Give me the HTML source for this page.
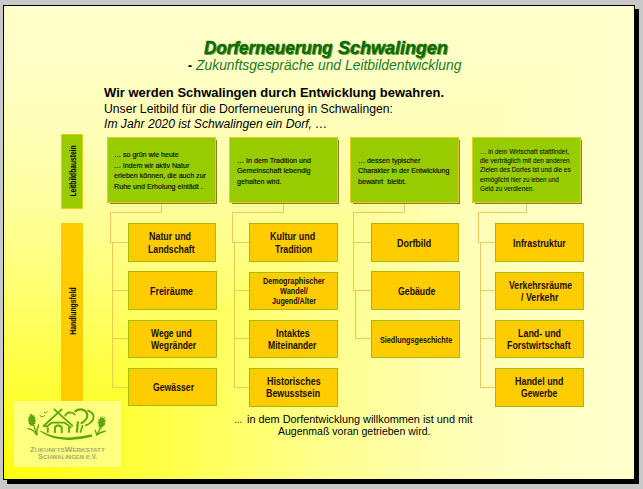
<!DOCTYPE html><html><head><meta charset="utf-8"><title>Dorferneuerung Schwalingen</title>
<style>
html,body{margin:0;padding:0}
body{width:643px;height:489px;overflow:hidden;position:relative;background:#c9c9c9;font-family:"Liberation Sans",sans-serif}
.a{position:absolute}
.t{position:absolute;white-space:pre;line-height:1;transform-origin:0 0}
.gb{position:absolute;background:#99cc00;border:1px solid #e2cf1e;box-sizing:border-box}
.gs{position:absolute;background:#8d7d20}
.ob{position:absolute;background:#ffcc00;border:1px solid #a9bb00;box-sizing:border-box}
</style></head><body>
<div class="a" style="left:3px;top:5px;width:630px;height:473px;border:1px solid #000;box-shadow:4px 4px 0 #000;background:#ffffcc"></div>
<svg class="a" style="left:4px;top:6px" width="630" height="473" viewBox="0 0 630 473">
<defs>
<linearGradient id="gv" x1="0" y1="1" x2="0" y2="0"><stop offset="0" stop-color="#ffff0c"/><stop offset="0.125" stop-color="#ffff26"/><stop offset="0.25" stop-color="#ffff46"/><stop offset="0.375" stop-color="#ffff69"/><stop offset="0.5" stop-color="#ffff8c"/><stop offset="0.625" stop-color="#ffffa6"/><stop offset="0.75" stop-color="#ffffb9"/><stop offset="0.875" stop-color="#ffffc5"/><stop offset="1" stop-color="#ffffcc"/></linearGradient>
<linearGradient id="gh" x1="0" y1="0" x2="1" y2="0"><stop offset="0" stop-color="#ffff0c"/><stop offset="0.125" stop-color="#ffff26"/><stop offset="0.25" stop-color="#ffff46"/><stop offset="0.375" stop-color="#ffff69"/><stop offset="0.5" stop-color="#ffff8c"/><stop offset="0.625" stop-color="#ffffa6"/><stop offset="0.75" stop-color="#ffffb9"/><stop offset="0.875" stop-color="#ffffc5"/><stop offset="1" stop-color="#ffffcc"/></linearGradient>
</defs>
<rect width="630" height="473" fill="url(#gv)"/>
<polygon points="0,473 630,473 630,0" fill="url(#gh)"/>
</svg>
<div class="gb" style="left:61px;top:134px;width:22px;height:75px;border-color:#f0cc10"></div>
<div class="a" style="left:61px;top:223px;width:22px;height:178px;background:#ffcc00"></div>
<div class="a" style="left:14px;top:401px;width:107px;height:66px;background:#ffff80"></div>
<svg class="a" style="left:14px;top:401px" width="107" height="66" viewBox="14 401 107 66">
<g fill="none" stroke="#5fa50f" stroke-linecap="round" stroke-linejoin="round">
<path d="M61.7 409.4 L43.6 426 L47.3 426.3 L51.6 422.7 L64.8 422.7 L70.8 427.4" stroke-width="1.8"/>
<path d="M54.3 409.3 L72.4 425.6" stroke-width="1.8"/>
<path d="M54.9 432.2 L54.9 428 Q54.9 425.4 58.3 425.4 Q61.7 425.4 61.7 428 L61.7 432.2" stroke-width="2"/>
<path d="M47.8 428.2 L47.8 432" stroke-width="1.9"/>
<path d="M69 427.8 L69 432" stroke-width="1.9"/>
<path d="M65.1 415.7 Q66.5 412.4 70 412.3 Q73.2 412.3 74.8 414.6" stroke-width="1.7"/>
<path d="M75.2 411.4 Q77.5 409.3 80.8 409.4 Q87 410 87.3 415.8 Q87 420.5 81.5 423" stroke-width="2.1"/>
<path d="M88 410.6 Q93.6 412.5 93.6 417 Q93.2 422.5 85.8 425.4" stroke-width="1.8"/>
<path d="M77.9 422.4 L76.9 431.6" stroke-width="2.2"/>
<path d="M82.6 425.8 L80.4 432" stroke-width="1.7"/>
<path d="M39.9 415.6 Q41 416.9 42.6 416.8 Q44 416.5 45 415.3" stroke-width="1"/>
<path d="M44.3 412.5 Q45.2 413.2 46.1 412.9 Q47.2 412.4 47.9 411.4" stroke-width="0.9"/>
<path d="M33.6 425 Q34.8 429 36.2 433.6" stroke-width="1.3"/>
<path d="M28 428.6 Q33 429 36.4 434.6" stroke-width="1.4"/>
<path d="M38.6 425 Q36.4 429.5 36.8 435" stroke-width="1.5"/>
<path d="M100.6 427 Q99 431.5 96.8 434.8" stroke-width="1.4"/>
<path d="M95.2 430.2 Q96 432.6 96.8 434.8" stroke-width="1.3"/>
<path d="M105.2 431.2 Q100.5 432 96.8 434.8" stroke-width="1.5"/>
<path d="M98.6 425.5 L101 428.4" stroke-width="1.1"/>
</g>
<g fill="#5fa50f" stroke="none">
<path d="M40.3 430.4 Q54 438 70 437.4 Q82 436.8 91.6 434.2 L92.4 436.8 Q82 439.4 70 439.9 Q53 440.4 40.3 431.8 Z"/>
<path d="M31.6 413.8 L32.8 415.4 L34.2 415.2 L34.4 417 L35.6 417.6 L35 419.2 L36 420.6 L35 422 L35.4 423.8 L34 424.4 L33.6 426 L31.8 425.4 L30.4 426 L29.8 424.2 L28.4 423.4 L29 421.6 L27.8 420.2 L28.8 418.8 L28.2 417.2 L29.6 416.4 L29.8 414.8 Z"/>
<path d="M102.4 415.2 L102.8 418.4 L105 416.6 L104.2 420 L106 419.6 L104.6 423.2 L105.8 423.8 L103.6 426 Q102.4 427.8 100.8 427.6 Q98.8 426.4 98.6 424 L97 421.4 L99 422 L97.8 418.2 L100 419.8 L100.2 416.6 L101.4 418 Z"/>
</g>
</svg>
<div class="gs" style="left:110px;top:140px;width:107px;height:64px"></div>
<div class="gb" style="left:107px;top:137px;width:109px;height:66px"></div>
<div class="gs" style="left:232px;top:140px;width:107px;height:64px"></div>
<div class="gb" style="left:229px;top:137px;width:109px;height:66px"></div>
<div class="gs" style="left:353px;top:140px;width:107px;height:64px"></div>
<div class="gb" style="left:350px;top:137px;width:109px;height:66px"></div>
<div class="gs" style="left:475px;top:140px;width:107px;height:64px"></div>
<div class="gb" style="left:472px;top:137px;width:109px;height:66px"></div>
<div class="a" style="left:161px;top:204px;width:1px;height:9px;background:#efc856"></div>
<div class="a" style="left:110px;top:212px;width:52px;height:1px;background:#efc856"></div>
<div class="a" style="left:110px;top:212px;width:1px;height:31px;background:#efc856"></div>
<div class="a" style="left:112px;top:242px;width:1px;height:146px;background:#efc856"></div>
<div class="a" style="left:110px;top:242px;width:18px;height:1px;background:#efc856"></div>
<div class="a" style="left:112px;top:290px;width:16px;height:1px;background:#efc856"></div>
<div class="a" style="left:112px;top:338px;width:16px;height:1px;background:#efc856"></div>
<div class="a" style="left:112px;top:387px;width:16px;height:1px;background:#efc856"></div>
<div class="a" style="left:283px;top:204px;width:1px;height:9px;background:#efc856"></div>
<div class="a" style="left:232px;top:212px;width:52px;height:1px;background:#efc856"></div>
<div class="a" style="left:232px;top:212px;width:1px;height:31px;background:#efc856"></div>
<div class="a" style="left:234px;top:242px;width:1px;height:146px;background:#efc856"></div>
<div class="a" style="left:232px;top:242px;width:17px;height:1px;background:#efc856"></div>
<div class="a" style="left:234px;top:290px;width:15px;height:1px;background:#efc856"></div>
<div class="a" style="left:234px;top:338px;width:15px;height:1px;background:#efc856"></div>
<div class="a" style="left:234px;top:387px;width:15px;height:1px;background:#efc856"></div>
<div class="a" style="left:404px;top:204px;width:1px;height:9px;background:#efc856"></div>
<div class="a" style="left:353px;top:212px;width:52px;height:1px;background:#efc856"></div>
<div class="a" style="left:353px;top:212px;width:1px;height:79px;background:#efc856"></div>
<div class="a" style="left:355px;top:290px;width:1px;height:49px;background:#efc856"></div>
<div class="a" style="left:353px;top:242px;width:18px;height:1px;background:#efc856"></div>
<div class="a" style="left:353px;top:290px;width:18px;height:1px;background:#efc856"></div>
<div class="a" style="left:355px;top:338px;width:16px;height:1px;background:#efc856"></div>
<div class="a" style="left:526px;top:204px;width:1px;height:9px;background:#efc856"></div>
<div class="a" style="left:478px;top:212px;width:49px;height:1px;background:#efc856"></div>
<div class="a" style="left:478px;top:212px;width:1px;height:31px;background:#efc856"></div>
<div class="a" style="left:480px;top:242px;width:1px;height:146px;background:#efc856"></div>
<div class="a" style="left:478px;top:242px;width:17px;height:1px;background:#efc856"></div>
<div class="a" style="left:480px;top:290px;width:15px;height:1px;background:#efc856"></div>
<div class="a" style="left:480px;top:338px;width:15px;height:1px;background:#efc856"></div>
<div class="a" style="left:480px;top:387px;width:15px;height:1px;background:#efc856"></div>
<div class="ob" style="left:128px;top:223px;width:88px;height:39px"></div>
<div class="ob" style="left:128px;top:271px;width:89px;height:39px"></div>
<div class="ob" style="left:128px;top:320px;width:89px;height:38px"></div>
<div class="ob" style="left:128px;top:368px;width:89px;height:38px"></div>
<div class="ob" style="left:249px;top:223px;width:89px;height:39px"></div>
<div class="ob" style="left:249px;top:272px;width:89px;height:38px"></div>
<div class="ob" style="left:249px;top:320px;width:89px;height:38px"></div>
<div class="ob" style="left:249px;top:368px;width:89px;height:39px"></div>
<div class="ob" style="left:371px;top:223px;width:88px;height:39px"></div>
<div class="ob" style="left:371px;top:271px;width:89px;height:39px"></div>
<div class="ob" style="left:371px;top:320px;width:89px;height:38px"></div>
<div class="ob" style="left:495px;top:223px;width:89px;height:39px"></div>
<div class="ob" style="left:495px;top:272px;width:89px;height:38px"></div>
<div class="ob" style="left:495px;top:320px;width:89px;height:38px"></div>
<div class="ob" style="left:495px;top:368px;width:89px;height:39px"></div>
<div class="t" style="left:204.00px;top:39px;font-size:18.3px;font-weight:bold;font-style:italic;color:#0a6a0a;transform:scaleX(0.9302);text-shadow:1.2px 1.2px 0 #86aa2c;-webkit-text-stroke:0.4px #0a6a0a;">Dorferneuerung</div>
<div class="t" style="left:338.00px;top:39px;font-size:18.3px;font-weight:bold;font-style:italic;color:#0a6a0a;transform:scaleX(0.9826);text-shadow:1.2px 1.2px 0 #86aa2c;-webkit-text-stroke:0.4px #0a6a0a;">Schwalingen</div>
<div class="t" style="left:187.50px;top:57px;font-size:15px;font-weight:bold;font-style:normal;color:#000;transform:scaleX(0.8000);">-</div>
<div class="t" style="left:195.50px;top:57px;font-size:15px;font-weight:normal;font-style:italic;color:#1c7a1c;transform:scaleX(0.9255);">Zukunftsgespräche und Leitbildentwicklung</div>
<div class="t" style="left:103.50px;top:87px;font-size:12.5px;font-weight:bold;font-style:normal;color:#000;transform:scaleX(1.0375);">Wir werden Schwalingen durch Entwicklung bewahren.</div>
<div class="t" style="left:103.50px;top:103px;font-size:12.5px;font-weight:normal;font-style:normal;color:#000;transform:scaleX(0.9740);">Unser Leitbild für die Dorferneuerung in Schwalingen:</div>
<div class="t" style="left:103.50px;top:118px;font-size:12.5px;font-weight:normal;font-style:italic;color:#000;transform:scaleX(0.9719);">Im Jahr 2020 ist Schwalingen ein Dorf, …</div>
<div class="t" style="left:114.20px;top:151px;font-size:7.8px;font-weight:normal;font-style:normal;color:#081000;transform:scaleX(0.9047);-webkit-text-stroke:0.18px #081000;">… so grün wie heute</div>
<div class="t" style="left:114.20px;top:162px;font-size:7.8px;font-weight:normal;font-style:normal;color:#081000;transform:scaleX(0.9098);-webkit-text-stroke:0.18px #081000;">… indem wir aktiv Natur</div>
<div class="t" style="left:114.20px;top:172px;font-size:7.8px;font-weight:normal;font-style:normal;color:#081000;transform:scaleX(0.9147);-webkit-text-stroke:0.18px #081000;">erleben können, die auch zur</div>
<div class="t" style="left:114.20px;top:183px;font-size:7.8px;font-weight:normal;font-style:normal;color:#081000;transform:scaleX(0.9165);-webkit-text-stroke:0.18px #081000;">Ruhe und Erholung einlädt .</div>
<div class="t" style="left:237.20px;top:157px;font-size:7.8px;font-weight:normal;font-style:normal;color:#081000;transform:scaleX(0.9118);-webkit-text-stroke:0.18px #081000;">… In dem Tradition und</div>
<div class="t" style="left:237.20px;top:167px;font-size:7.8px;font-weight:normal;font-style:normal;color:#081000;transform:scaleX(0.9227);-webkit-text-stroke:0.18px #081000;">Gemeinschaft lebendig</div>
<div class="t" style="left:237.20px;top:178px;font-size:7.8px;font-weight:normal;font-style:normal;color:#081000;transform:scaleX(0.9166);-webkit-text-stroke:0.18px #081000;">gehalten wird.</div>
<div class="t" style="left:358.20px;top:157px;font-size:7.8px;font-weight:normal;font-style:normal;color:#081000;transform:scaleX(0.9097);-webkit-text-stroke:0.18px #081000;">… dessen typischer</div>
<div class="t" style="left:358.20px;top:167px;font-size:7.8px;font-weight:normal;font-style:normal;color:#081000;transform:scaleX(0.9179);-webkit-text-stroke:0.18px #081000;">Charakter in der Entwicklung</div>
<div class="t" style="left:358.20px;top:178px;font-size:7.8px;font-weight:normal;font-style:normal;color:#081000;transform:scaleX(0.9132);-webkit-text-stroke:0.18px #081000;">bewahrt  bleibt.</div>
<div class="t" style="left:480.20px;top:148px;font-size:7.0px;font-weight:normal;font-style:normal;color:#081000;transform:scaleX(0.9150);-webkit-text-stroke:0.08px #081000;">… in dem Wirtschaft stattfindet,</div>
<div class="t" style="left:480.20px;top:157px;font-size:7.0px;font-weight:normal;font-style:normal;color:#081000;transform:scaleX(0.9332);-webkit-text-stroke:0.08px #081000;">die verträglich mit den anderen</div>
<div class="t" style="left:480.20px;top:166px;font-size:7.0px;font-weight:normal;font-style:normal;color:#081000;transform:scaleX(0.9249);-webkit-text-stroke:0.08px #081000;">Zielen des Dorfes ist und die es</div>
<div class="t" style="left:480.20px;top:176px;font-size:7.0px;font-weight:normal;font-style:normal;color:#081000;transform:scaleX(0.8948);-webkit-text-stroke:0.08px #081000;">ermöglicht hier zu leben und</div>
<div class="t" style="left:480.20px;top:185px;font-size:7.0px;font-weight:normal;font-style:normal;color:#081000;transform:scaleX(0.9223);-webkit-text-stroke:0.08px #081000;">Geld zu verdienen.</div>
<div class="t" style="left:149.48px;top:231px;font-size:10.5px;font-weight:bold;font-style:normal;color:#1a0e00;transform:scaleX(0.8476);">Natur und</div>
<div class="t" style="left:147.90px;top:244px;font-size:10.5px;font-weight:bold;font-style:normal;color:#1a0e00;transform:scaleX(0.8319);">Landschaft</div>
<div class="t" style="left:150.49px;top:286px;font-size:10.5px;font-weight:bold;font-style:normal;color:#1a0e00;transform:scaleX(0.8468);">Freiräume</div>
<div class="t" style="left:150.50px;top:328px;font-size:10.5px;font-weight:bold;font-style:normal;color:#1a0e00;transform:scaleX(0.8123);">Wege und</div>
<div class="t" style="left:150.50px;top:340px;font-size:10.5px;font-weight:bold;font-style:normal;color:#1a0e00;transform:scaleX(0.8270);">Wegränder</div>
<div class="t" style="left:152.69px;top:382px;font-size:10.5px;font-weight:bold;font-style:normal;color:#1a0e00;transform:scaleX(0.8264);">Gewässer</div>
<div class="t" style="left:270.48px;top:231px;font-size:10.5px;font-weight:bold;font-style:normal;color:#1a0e00;transform:scaleX(0.8520);">Kultur und</div>
<div class="t" style="left:274.90px;top:244px;font-size:10.5px;font-weight:bold;font-style:normal;color:#1a0e00;transform:scaleX(0.8389);">Tradition</div>
<div class="t" style="left:263.10px;top:278px;font-size:8.2px;font-weight:bold;font-style:normal;color:#1a0e00;transform:scaleX(0.8847);">Demographischer</div>
<div class="t" style="left:280.30px;top:288px;font-size:8.2px;font-weight:bold;font-style:normal;color:#1a0e00;transform:scaleX(0.8941);">Wandel/</div>
<div class="t" style="left:271.69px;top:298px;font-size:8.2px;font-weight:bold;font-style:normal;color:#1a0e00;transform:scaleX(0.8793);">Jugend/Alter</div>
<div class="t" style="left:275.68px;top:328px;font-size:10.5px;font-weight:bold;font-style:normal;color:#1a0e00;transform:scaleX(0.8522);">Intaktes</div>
<div class="t" style="left:267.89px;top:340px;font-size:10.5px;font-weight:bold;font-style:normal;color:#1a0e00;transform:scaleX(0.8213);">Miteinander</div>
<div class="t" style="left:267.30px;top:376px;font-size:10.5px;font-weight:bold;font-style:normal;color:#1a0e00;transform:scaleX(0.8508);">Historisches</div>
<div class="t" style="left:266.49px;top:388px;font-size:10.5px;font-weight:bold;font-style:normal;color:#1a0e00;transform:scaleX(0.8417);">Bewusstsein</div>
<div class="t" style="left:397.27px;top:238px;font-size:10.5px;font-weight:bold;font-style:normal;color:#1a0e00;transform:scaleX(0.8515);">Dorfbild</div>
<div class="t" style="left:398.09px;top:286px;font-size:10.5px;font-weight:bold;font-style:normal;color:#1a0e00;transform:scaleX(0.8324);">Gebäude</div>
<div class="t" style="left:380.10px;top:337px;font-size:8.2px;font-weight:bold;font-style:normal;color:#1a0e00;transform:scaleX(0.8815);">Siedlungsgeschichte</div>
<div class="t" style="left:512.88px;top:238px;font-size:10.5px;font-weight:bold;font-style:normal;color:#1a0e00;transform:scaleX(0.8462);">Infrastruktur</div>
<div class="t" style="left:509.29px;top:280px;font-size:10.5px;font-weight:bold;font-style:normal;color:#1a0e00;transform:scaleX(0.8302);">Verkehrsräume</div>
<div class="t" style="left:520.89px;top:292px;font-size:10.5px;font-weight:bold;font-style:normal;color:#1a0e00;transform:scaleX(0.8429);">/ Verkehr</div>
<div class="t" style="left:517.68px;top:328px;font-size:10.5px;font-weight:bold;font-style:normal;color:#1a0e00;transform:scaleX(0.8477);">Land- und</div>
<div class="t" style="left:507.29px;top:340px;font-size:10.5px;font-weight:bold;font-style:normal;color:#1a0e00;transform:scaleX(0.8389);">Forstwirtschaft</div>
<div class="t" style="left:514.87px;top:376px;font-size:10.5px;font-weight:bold;font-style:normal;color:#1a0e00;transform:scaleX(0.8476);">Handel und</div>
<div class="t" style="left:520.89px;top:388px;font-size:10.5px;font-weight:bold;font-style:normal;color:#1a0e00;transform:scaleX(0.8207);">Gewerbe</div>
<div class="t" style="left:233.90px;top:414px;font-size:11.5px;font-weight:normal;font-style:normal;color:#000;transform:scaleX(0.7217);">…</div>
<div class="t" style="left:247.00px;top:414px;font-size:11.5px;font-weight:normal;font-style:normal;color:#000;transform:scaleX(0.9459);">in dem Dorfentwicklung willkommen ist und mit</div>
<div class="t" style="left:277.60px;top:426px;font-size:11.5px;font-weight:normal;font-style:normal;color:#000;transform:scaleX(0.9134);">Augenmaß voran getrieben wird.</div>
<div class="t" style="left:30.30px;top:446px;font-size:5.7px;font-weight:bold;font-style:normal;color:#a8a872;transform:scaleX(1.0958);"><span style="font-size:7.4px">Z</span>UKUNFTS<span style="font-size:7.4px">W</span>ERKSTATT</div>
<div class="t" style="left:38.00px;top:453px;font-size:5.7px;font-weight:bold;font-style:normal;color:#a8a872;transform:scaleX(1.0539);"><span style="font-size:7.4px">S</span>CHWALINGEN <span style="font-size:6.4px">e.V.</span></div>
<div class="t" style="left:73.3px;top:171.2px;font-size:9.5px;font-weight:bold;transform-origin:50% 50%;transform:translate(-50%,-50%) rotate(-90deg) scaleX(0.70);">Leitbildbaustein</div>
<div class="t" style="left:73.3px;top:310.8px;font-size:9.5px;font-weight:bold;transform-origin:50% 50%;transform:translate(-50%,-50%) rotate(-90deg) scaleX(0.72);">Handlungsfeld</div>
</body></html>
